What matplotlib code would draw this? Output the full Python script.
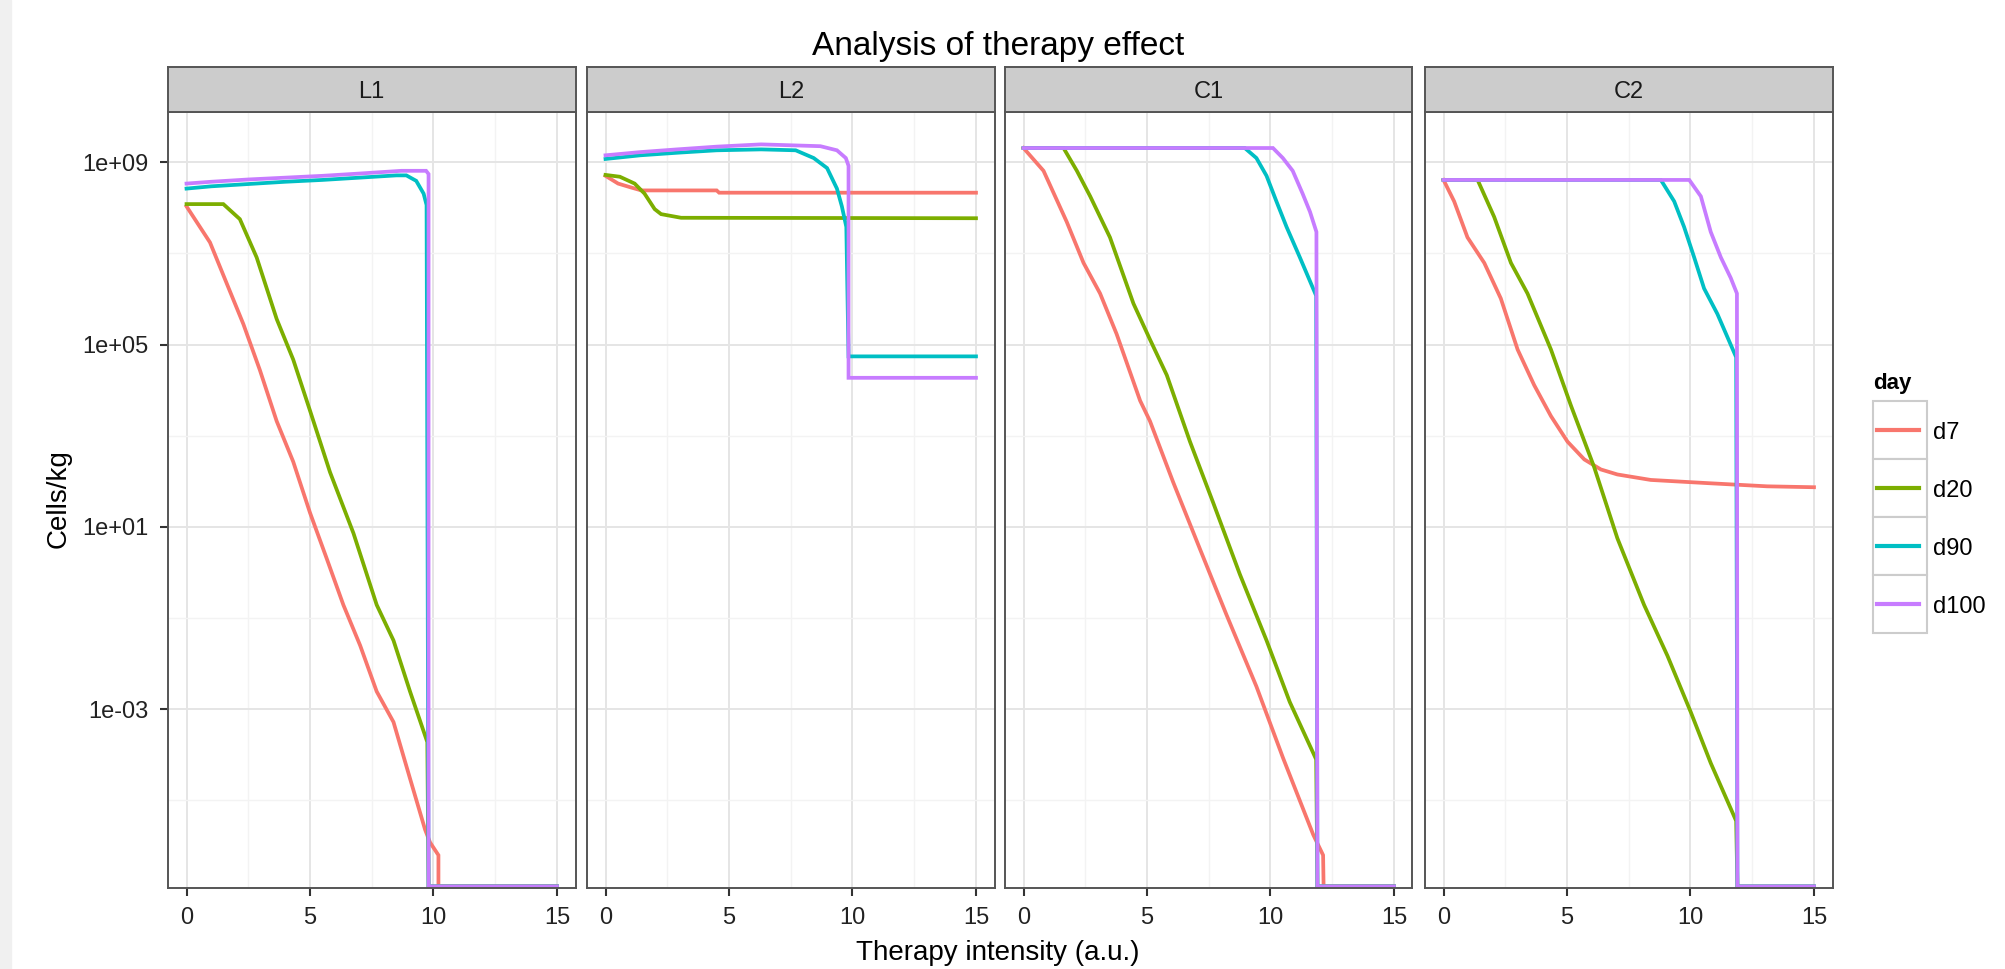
import matplotlib.pyplot as plt
import numpy as np
from matplotlib.patches import Rectangle
from matplotlib.ticker import FixedLocator, FixedFormatter, NullFormatter

### data (x = therapy intensity, y = log10 cells/kg, -inf means 0 cells) ###
NEG = -np.inf
days = ['d7', 'd20', 'd90', 'd100']
colors = ['#F8766D', '#7CAE00', '#00BFC4', '#C77CFF']
panels = ['L1', 'L2', 'C1', 'C2']

L1 = {
	'd7': ([0, 0.95, 1.62, 2.30, 2.97, 3.65, 4.32, 5.0, 5.68, 6.35, 7.03, 7.70, 8.38, 9.05, 9.66, 9.86, 10.2, 10.2, 15],
	       [8.03, 7.24, 6.35, 5.45, 4.44, 3.32, 2.43, 1.31, 0.30, -0.71, -1.60, -2.61, -3.28, -4.52, -5.64, -5.92, -6.20, NEG, NEG]),
	'd20': ([0, 1.49, 2.16, 2.84, 3.65, 4.32, 5.0, 5.81, 6.76, 7.70, 8.38, 9.05, 9.75, 9.8, 15],
	        [8.08, 8.08, 7.75, 6.91, 5.56, 4.67, 3.55, 2.20, 0.86, -0.71, -1.49, -2.61, -3.72, NEG, NEG]),
	'd90': ([0, 1.0, 2.5, 4.0, 5.5, 7.0, 8.5, 8.9, 9.3, 9.6, 9.72, 9.8, 15],
	        [8.42, 8.47, 8.52, 8.57, 8.61, 8.66, 8.71, 8.71, 8.59, 8.31, 8.06, NEG, NEG]),
	'd100': ([0, 1.0, 2.5, 4.0, 5.5, 7.0, 8.7, 9.7, 9.8, 9.8, 15],
	         [8.53, 8.57, 8.62, 8.66, 8.70, 8.75, 8.81, 8.81, 8.74, NEG, NEG]),
}
L2 = {
	'd7': ([0, 0.51, 1.0, 1.45, 4.5, 4.6, 15],
	       [8.70, 8.53, 8.45, 8.38, 8.38, 8.33, 8.33]),
	'd20': ([0, 0.58, 1.18, 1.58, 1.99, 2.25, 3.06, 15],
	        [8.72, 8.68, 8.53, 8.31, 7.97, 7.86, 7.78, 7.77]),
	'd90': ([0, 1.4, 3.0, 4.5, 6.3, 7.7, 8.43, 8.97, 9.37, 9.57, 9.75, 9.84, 15],
	        [9.07, 9.15, 9.21, 9.26, 9.28, 9.26, 9.09, 8.87, 8.42, 8.03, 7.58, 4.74, 4.74]),
	'd100': ([0, 1.4, 2.9, 4.5, 6.3, 8.7, 9.37, 9.73, 9.84, 9.84, 15],
	         [9.15, 9.22, 9.28, 9.34, 9.39, 9.35, 9.26, 9.09, 8.92, 4.27, 4.27]),
}
C1 = {
	'd7': ([0, 0.81, 1.75, 2.43, 3.10, 3.77, 4.72, 5.12, 6.06, 7.14, 8.22, 9.43, 10.51, 11.73, 12.13, 12.15, 15],
	       [9.31, 8.81, 7.69, 6.79, 6.12, 5.23, 3.77, 3.32, 1.98, 0.52, -0.93, -2.50, -4.07, -5.75, -6.20, NEG, NEG]),
	'd20': ([0, 1.62, 2.16, 2.70, 3.50, 4.45, 5.12, 5.80, 6.74, 7.68, 8.76, 9.84, 10.78, 11.85, 11.9, 15],
	        [9.31, 9.31, 8.81, 8.25, 7.35, 5.90, 5.11, 4.33, 2.87, 1.53, -0.04, -1.49, -2.84, -4.10, NEG, NEG]),
	'd90': ([0, 8.96, 9.43, 9.84, 10.24, 10.65, 11.19, 11.85, 11.9, 15],
	        [9.31, 9.31, 9.09, 8.70, 8.14, 7.58, 6.91, 6.07, NEG, NEG]),
	'd100': ([0, 10.1, 10.5, 10.9, 11.3, 11.6, 11.86, 11.9, 15],
	         [9.31, 9.31, 9.09, 8.81, 8.31, 7.91, 7.47, NEG, NEG]),
}
C2 = {
	'd7': ([0, 0.43, 0.97, 1.65, 2.32, 3.0, 3.67, 4.35, 5.02, 5.70, 6.37, 7.04, 8.39, 10.69, 13.1, 15],
	       [8.61, 8.14, 7.35, 6.79, 6.01, 4.89, 4.11, 3.43, 2.87, 2.48, 2.26, 2.15, 2.03, 1.96, 1.89, 1.87]),
	'd20': ([0, 1.38, 2.05, 2.73, 3.40, 4.35, 5.16, 6.10, 7.04, 8.12, 9.07, 10.01, 10.82, 11.85, 11.9, 15],
	        [8.61, 8.61, 7.80, 6.79, 6.12, 4.89, 3.66, 2.31, 0.75, -0.71, -1.83, -3.06, -4.18, -5.45, NEG, NEG]),
	'd90': ([0, 8.80, 9.34, 9.74, 10.15, 10.55, 11.09, 11.85, 11.9, 15],
	        [8.61, 8.61, 8.14, 7.58, 6.91, 6.23, 5.67, 4.72, NEG, NEG]),
	'd100': ([0, 9.95, 10.42, 10.82, 11.23, 11.63, 11.88, 11.9, 15],
	         [8.61, 8.61, 8.25, 7.47, 6.91, 6.46, 6.12, NEG, NEG]),
}
panel_data = [L1, L2, C1, C2]

x_ticks = [0, 5, 10, 15]
x_minor = [2.5, 7.5, 12.5]
y_ticks = [1e9, 1e5, 1e1, 1e-3]
y_labels = ['1e+09', '1e+05', '1e+01', '1e-03']
y_minor = [1e7, 1e3, 1e-1, 1e-5]

### layout (pixels) ###
plt.rcParams['font.family'] = ['Liberation Sans', 'DejaVu Sans']
W, H = 2005, 969
fig = plt.figure(figsize=(W / 100, H / 100), dpi=100)
fx = lambda px: px / W
fy = lambda py: 1 - py / H

lefts = [168, 587, 1005, 1425]
pw = 407.5
top, bottom, strip_top = 112, 888, 67
ylo, yhi = 10 ** -6.92, 10 ** 10.10
floor = 10 ** -6.885
edge = '#555555'

fig.patches.append(Rectangle((0, 0), fx(11), 1, transform=fig.transFigure, color='#F0F0F0', zorder=0))

for i, (name, data) in enumerate(zip(panels, panel_data)):
	ax = fig.add_axes([fx(lefts[i]), fy(bottom), pw / W, (bottom - top) / H])
	ax.set_yscale('log')
	ax.set_xlim(-0.75, 15.75)
	ax.set_ylim(ylo, yhi)
	ax.xaxis.set_major_locator(FixedLocator(x_ticks))
	ax.xaxis.set_minor_locator(FixedLocator(x_minor))
	ax.yaxis.set_major_locator(FixedLocator(y_ticks))
	ax.yaxis.set_major_formatter(FixedFormatter(y_labels))
	ax.yaxis.set_minor_locator(FixedLocator(y_minor))
	ax.yaxis.set_minor_formatter(NullFormatter())
	ax.grid(which='major', color='#E5E5E5', lw=1.4)
	ax.grid(which='minor', color='#F3F3F3', lw=1.0)
	ax.set_axisbelow(True)
	for day, col in zip(days, colors):
		xs, ys = data[day]
		ys = np.array(ys, dtype=float)
		# zero cells sit on the panel floor, as ggplot draws -Inf
		yv = np.where(np.isinf(ys), floor, 10 ** np.where(np.isinf(ys), 0, ys))
		ax.plot(xs, yv, color=col, lw=2.7, solid_joinstyle='miter')
	for s in ax.spines.values():
		s.set_color(edge)
		s.set_linewidth(1.4)
	ax.tick_params(which='major', length=6, width=1.5, color='#333333', labelsize=17, labelcolor='#222222', pad=8)
	ax.tick_params(which='minor', length=0)
	if i > 0:
		ax.tick_params(axis='y', which='both', left=False, labelleft=False)

	sax = fig.add_axes([fx(lefts[i]), fy(top), pw / W, (top - strip_top) / H])
	sax.set_facecolor('#CCCCCC')
	sax.set_xticks([])
	sax.set_yticks([])
	for s in sax.spines.values():
		s.set_color(edge)
		s.set_linewidth(1.4)
	sax.text(0.5, 0.45, name, ha='center', va='center', fontsize=17, color='#1A1A1A', transform=sax.transAxes)

fig.text(fx(998), fy(55), 'Analysis of therapy effect', ha='center', va='baseline', fontsize=24)
fig.text(fx(997.5), fy(960), 'Therapy intensity (a.u.)', ha='center', va='baseline', fontsize=20)
fig.text(fx(59), fy(499), 'Cells/kg', rotation=90, ha='center', va='center', fontsize=20)

### legend ###
key_top, key_h = 401, 58
lax = fig.add_axes([fx(1873), fy(key_top + 4 * key_h), 54 / W, 4 * key_h / H])
lax.set_xlim(0, 1)
lax.set_ylim(4, 0)
lax.axis('off')
for k, (day, col) in enumerate(zip(days, colors)):
	lax.add_patch(Rectangle((0, k), 1, 1, facecolor='white', edgecolor='#CCCCCC', lw=1.5, clip_on=False))
	lax.plot([0.08, 0.86], [k + 0.5, k + 0.5], color=col, lw=3.0, clip_on=False)
	fig.text(fx(1933), fy(key_top + key_h * (k + 0.5) + 3), day, ha='left', va='center', fontsize=17)
fig.text(fx(1873), fy(389), 'day', ha='left', va='baseline', fontsize=16, fontweight='bold')

fig.savefig('out.png', dpi=100)
